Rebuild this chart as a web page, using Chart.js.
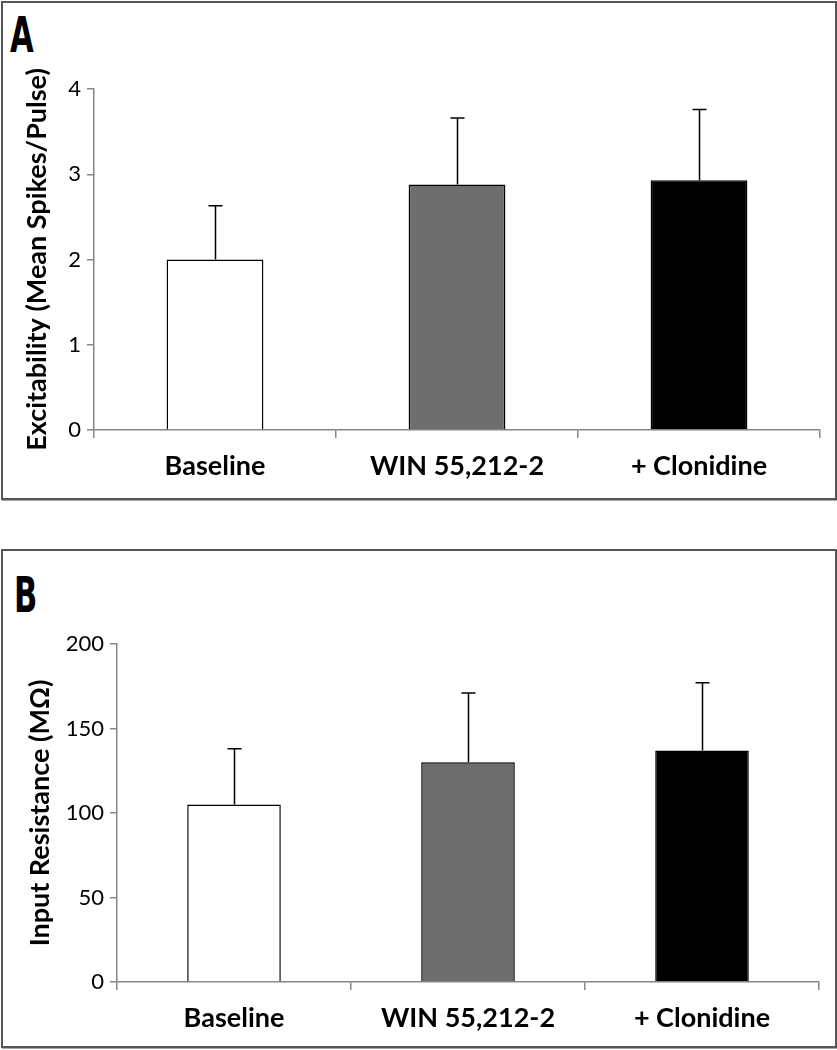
<!DOCTYPE html>
<html>
<head>
<meta charset="utf-8">
<script src="https://cdn.jsdelivr.net/npm/chart.js@4.4.1/dist/chart.umd.min.js"></script>
<style>
  html, body { margin: 0; padding: 0; background: #fff; }
  body { width: 837px; height: 1050px; position: relative; overflow: hidden; }
  .panel { position: absolute; left: 1px; width: 832px; height: 495px; border: 2px solid #555; box-shadow: 1px 1px 0 #aaa; background: #fff; }
  .panel canvas { position: absolute; left: 0; top: 0; }
  .letter { position: absolute; font-family: "DejaVu Sans", sans-serif; font-stretch: condensed; font-weight: bold; font-size: 50px; line-height: 1; color: #000; transform: scaleX(0.68); transform-origin: left top; }
</style>
</head>
<body>
<div class="panel" id="pa" style="top:1px;">
  <div class="letter" style="left:7px; top:7px;">A</div>
  <canvas id="cA" width="832" height="495"></canvas>
</div>
<div class="panel" id="pb" style="top:549px;">
  <div class="letter" style="left:11px; top:19px;">B</div>
  <canvas id="cB" width="832" height="495"></canvas>
</div>
<script>
// ---- data ----
const categories = ["Baseline", "WIN 55,212-2", "+ Clonidine"];
const excitabilityMeans = [2.0, 2.88, 2.93];
const excitabilityErrors = [0.63, 0.78, 0.83];
const excitabilityTicks = [0, 1, 2, 3, 4];
const resistanceMeans = [105, 130, 137];
const resistanceErrors = [33, 41, 40];
const resistanceTicks = [0, 50, 100, 150, 200];
const barColors = ["#ffffff", "#6e6e6e", "#000000"];

const FONT = "Lato, 'Open Sans', sans-serif";
const AXIS_COLOR = "#868686";

const errorBarPlugin = {
  id: "errorBars",
  afterDatasetsDraw(chart, args, opts) {
    const ctx = chart.ctx;
    const meta = chart.getDatasetMeta(0);
    const yScale = chart.scales.y;
    const values = chart.data.datasets[0].data;
    ctx.save();
    ctx.strokeStyle = "#000";
    ctx.lineWidth = 1.5;
    meta.data.forEach((bar, i) => {
      const yTop = yScale.getPixelForValue(values[i]);
      const yErr = yScale.getPixelForValue(values[i] + opts.errors[i]);
      const x = Math.round(bar.x) + 0.5;
      ctx.beginPath();
      ctx.moveTo(x, yTop);
      ctx.lineTo(x, yErr);
      ctx.moveTo(x - 7, yErr);
      ctx.lineTo(x + 7, yErr);
      ctx.stroke();
    });
    ctx.restore();
  }
};

function makeChart(id, means, errors, ticks, yTitle, cfg) {
  return new Chart(document.getElementById(id), {
    type: "bar",
    data: {
      labels: categories,
      datasets: [{
        data: means,
        backgroundColor: barColors,
        borderColor: "#000",
        borderWidth: 1.5,
        barPercentage: 0.8,
        categoryPercentage: 0.5
      }]
    },
    options: {
      responsive: false,
      animation: false,
      devicePixelRatio: 1,
      layout: { padding: { left: 0, top: cfg.top, right: cfg.right, bottom: 0 } },
      plugins: {
        legend: { display: false },
        tooltip: { enabled: false },
        errorBars: { errors: errors }
      },
      scales: {
        x: {
          offset: true,
          grid: { display: true, offset: true, drawOnChartArea: false, drawTicks: true, tickLength: 8, color: AXIS_COLOR, lineWidth: 1.5 },
          border: { display: true, color: AXIS_COLOR, width: 1.5 },
          ticks: { color: "#000", font: { family: FONT, size: 27, weight: "bold" }, padding: 12, maxRotation: 0 },
          afterFit(s) { s.height = cfg.xHeight; }
        },
        y: {
          min: ticks[0],
          max: ticks[ticks.length - 1],
          afterBuildTicks(s) { s.ticks = ticks.map(v => ({ value: v })); },
          grid: { display: true, drawOnChartArea: false, drawTicks: true, tickLength: 7, color: AXIS_COLOR, lineWidth: 1.5 },
          border: { display: true, color: AXIS_COLOR, width: 1.5 },
          ticks: { color: "#000", font: { family: FONT, size: 22 }, padding: 6 },
          title: { display: true, text: yTitle, color: "#000", font: { family: FONT, size: 27, weight: "bold" }, padding: { top: cfg.titlePad, bottom: 0 } },
          afterFit(s) { s.width = cfg.yWidth; }
        }
      }
    },
    plugins: [errorBarPlugin]
  });
}

makeChart("cA", excitabilityMeans, excitabilityErrors, excitabilityTicks,
  "Excitability (Mean Spikes/Pulse)", { top: 86, right: 15, xHeight: 68, yWidth: 91, titlePad: 18 });
makeChart("cB", resistanceMeans, resistanceErrors, resistanceTicks,
  "Input Resistance (MΩ)", { top: 93, right: 16, xHeight: 64, yWidth: 114, titlePad: 21 });
</script>
</body>
</html>
